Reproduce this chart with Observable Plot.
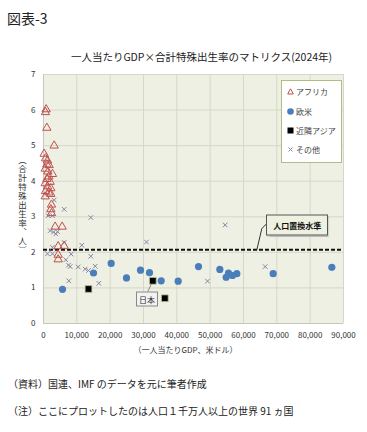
<!DOCTYPE html>
<html><head><meta charset="utf-8">
<script src="https://cdn.jsdelivr.net/npm/d3@7"></script>
<script src="https://cdn.jsdelivr.net/npm/@observablehq/plot@0.6"></script>
<style>
body{margin:0;background:#fff;font-family:"Noto Sans CJK JP","Noto Sans",sans-serif;}
#wrap{position:relative;width:367px;height:432px;overflow:hidden;background:#fff;}
.abs{position:absolute;white-space:nowrap;}
#title{left:7px;top:8px;font-size:14px;color:#222;}
#subtitle{left:0;width:403px;top:49px;text-align:center;font-size:10.5px;color:#222;}
#legend{left:281px;top:80px;width:59px;height:81px;border:1px solid #aebd84;background:#fff;}
.li{position:absolute;left:5px;font-size:8px;color:#444;display:flex;align-items:center;gap:2px;}
.box{position:absolute;font-size:8px;transform:translate(-50%,-50%);}
#note1{left:8px;top:376px;font-size:10px;color:#222;}
#note2{left:8px;top:403px;font-size:10px;color:#222;}
#chart{position:absolute;left:0;top:64px;}
</style></head><body>
<div id="wrap">
  <div id="title" class="abs">図表-3</div>
  <div id="subtitle" class="abs">一人当たりGDP×合計特殊出生率のマトリクス(2024年)</div>
  <div id="chart"></div>
  <div id="legend" class="abs"></div>
  <div id="note1" class="abs">（資料）国連、IMF のデータを元に筆者作成</div>
  <div id="note2" class="abs">（注）ここにプロットしたのは人口１千万人以上の世界 91 ヵ国</div>
</div>
<script>
// [GDP per capita (USD), total fertility rate]
const africa = [[800,6.02],[600,5.94],[1000,5.5],[3200,5.0],[200,4.77],[600,4.64],[1200,4.58],[1000,4.47],[1700,4.45],[500,4.35],[1300,4.27],[2700,4.2],[1600,4.13],[1000,4.06],[2000,3.98],[500,3.94],[1200,3.85],[2200,3.8],[600,3.72],[1600,3.68],[2200,3.64],[500,3.57],[2400,3.34],[2200,3.21],[2400,3.10],[3500,2.72],[5600,2.72],[4400,2.17],[6200,2.18],[4400,1.93],[4400,1.80]];
const westerners = [[5700,0.96],[15000,1.42],[20300,1.69],[24900,1.28],[29100,1.50],[31800,1.43],[35300,1.20],[40400,1.19],[46500,1.60],[52900,1.52],[54800,1.30],[55500,1.42],[56700,1.35],[58000,1.40],[68900,1.40],[86500,1.58]];
const nearAsia = [[13500,0.97],[32800,1.20],[36400,0.71]];
const others = [[3200,3.47],[6200,3.21],[1400,3.03],[2700,3.03],[14200,2.98],[2000,2.61],[3000,2.57],[3700,2.52],[4200,2.58],[2700,2.14],[6200,2.28],[11500,2.20],[1200,1.96],[2700,1.96],[8300,1.95],[14200,1.89],[6700,1.79],[7500,1.64],[8000,1.60],[10400,1.59],[12500,1.53],[13500,1.49],[15500,1.61],[16600,1.13],[7600,1.20],[30900,2.29],[54500,2.77],[49200,1.19],[66500,1.60]];
const replacementLevel = 2.07;
const xTicks = [0,10000,20000,30000,40000,50000,60000,70000,80000,90000];
const yTicks = [0,1,2,3,4,5,6,7];
const seriesNames = ["アフリカ","欧米","近隣アジア","その他"];
const xLabel = "（一人当たりGDP、米ドル）";
const yLabel = "（合計特殊出生率、人）";
const replacementLabel = "人口置換水準";
const replacementLabelPos = [76300, 2.76];
const replacementLeader = [[64000,2.07],[65500,2.67],[67000,2.81]];
const japanLabel = "日本";
const japanLabelPos = [31200, 0.68];
const japanLeader = [[32800,1.20],[31300,0.90]];

const font = '"Noto Sans CJK JP","Noto Sans",sans-serif';
const chart = Plot.plot({
  width: 367, height: 300,
  marginLeft: 43, marginRight: 24, marginTop: 10, marginBottom: 41,
  x: {domain:[0,90000]},
  y: {domain:[0,7]},
  style: {fontFamily: font, fontSize: "8px", color: "#333", background: "transparent"},
  marks: [
    Plot.frame({fill:"#eef0e3", stroke:null}),
    Plot.gridX(xTicks, {stroke:"#d4d8c8", strokeOpacity:1}),
    Plot.gridY(yTicks, {stroke:"#d4d8c8", strokeOpacity:1}),
    Plot.ruleY([0], {stroke:"#c6c9ba"}),
    Plot.ruleX([0], {stroke:"#c6c9ba"}),
    Plot.axisX(xTicks, {tickSize:0, tickPadding:9, tickFormat:d3.format(","), label:null, fontSize:8}),
    Plot.axisY(yTicks, {tickSize:0, tickPadding:8, label:null, fontSize:8}),
    Plot.text([xLabel], {frameAnchor:"bottom", dy:29, dx:-8, fontSize:8, fill:"#333"}),
    Plot.text([yLabel], {frameAnchor:"left", textAnchor:"middle", lineAnchor:"top", dx:-21, dy:0, fontSize:8.5, fill:"#333"}),
    Plot.ruleY([replacementLevel], {stroke:"#111", strokeWidth:2, strokeDasharray:"4,2"}),
    Plot.line(replacementLeader, {x:d=>d[0], y:d=>d[1], stroke:"#333", strokeWidth:1}),
    Plot.line(japanLeader, {x:d=>d[0], y:d=>d[1], stroke:"#888", strokeWidth:1}),
    Plot.dot(others, {x:d=>d[0], y:d=>d[1], symbol:"times", r:2.2, stroke:"#8784a6", strokeWidth:1}),
    Plot.dot(africa, {x:d=>d[0], y:d=>d[1], symbol:"triangle", r:3.1, stroke:"#c0504d", strokeWidth:1, fill:"none"}),
    Plot.dot(westerners, {x:d=>d[0], y:d=>d[1], symbol:"circle", r:3.6, fill:"#4a7ebb", stroke:"none"}),
    Plot.dot(nearAsia, {x:d=>d[0], y:d=>d[1], symbol:"square", r:3.8, fill:"#000", stroke:"#b8c48e", strokeWidth:0.8})
  ]
});
// make the y-axis title vertical (upright CJK writing)
d3.select(chart).selectAll("text").filter(function(){ return this.textContent === yLabel; })
  .attr("dy", null)
  .style("writing-mode", "vertical-rl")
  .style("text-orientation", "mixed")
  .style("letter-spacing", "0.5px");
document.getElementById("chart").appendChild(chart);

const sx = chart.scale("x"), sy = chart.scale("y");
const top0 = 64;
function addBox(text, pos, css){
  const d = document.createElement("div");
  d.className = "box";
  d.textContent = text;
  d.style.left = sx.apply(pos[0]) + "px";
  d.style.top = (sy.apply(pos[1]) + top0) + "px";
  Object.assign(d.style, css);
  document.getElementById("wrap").appendChild(d);
}
addBox(replacementLabel, replacementLabelPos, {background:"#eef0e0", border:"1px solid #555", padding:"4px 6px", color:"#111", fontWeight:"bold", boxShadow:"1px 1px 1px #bbb"});
addBox(japanLabel, japanLabelPos, {background:"#f2f2f2", border:"1.5px solid #888", padding:"1px 2px", color:"#333"});

// legend
const icons = [
  '<svg width="7" height="7"><path d="M3.5 0.8 L6.3 6 L0.7 6 Z" fill="none" stroke="#c0504d" stroke-width="1"/></svg>',
  '<svg width="7" height="7"><circle cx="3.5" cy="3.5" r="3.3" fill="#4a7ebb"/></svg>',
  '<svg width="7" height="7"><rect x="0.5" y="0.5" width="6" height="6" fill="#000"/></svg>',
  '<svg width="7" height="7"><path d="M1.5 1.5 L5.5 5.5 M5.5 1.5 L1.5 5.5" stroke="#8784a6" stroke-width="1"/></svg>'
];
const lg = document.getElementById("legend");
const tops = [5, 25, 44, 63];
seriesNames.forEach((n,i)=>{
  const e = document.createElement("div");
  e.className = "li";
  e.style.top = tops[i] + "px";
  e.innerHTML = icons[i] + "<span>" + n + "</span>";
  lg.appendChild(e);
});
</script>
</body></html>
